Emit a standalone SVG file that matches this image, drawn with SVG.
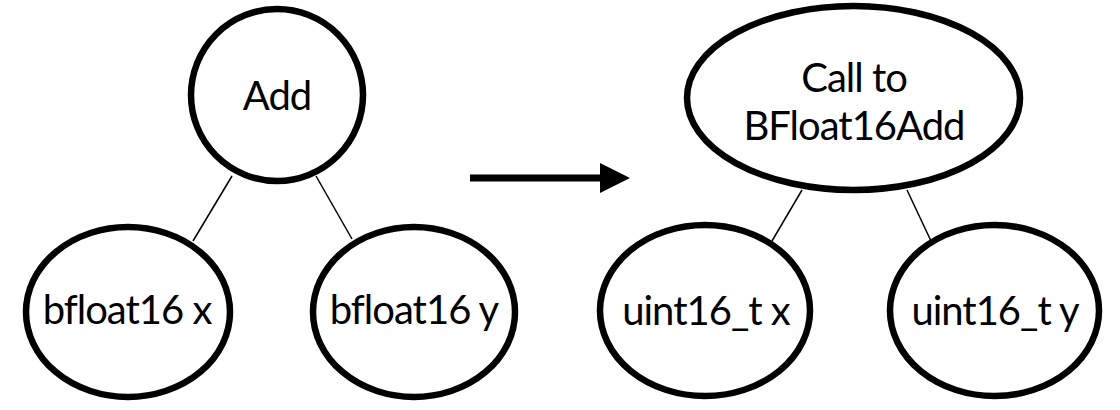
<svg xmlns="http://www.w3.org/2000/svg" width="1120" height="410" viewBox="0 0 1120 410">
<style>
.n{fill:#fff;stroke:#000;stroke-width:6.5}
.t{font-family:Lato,"Open Sans",sans-serif;font-size:40px;letter-spacing:-1px;fill:#000;text-anchor:middle}
.e{stroke:#000;stroke-width:1.5;fill:none}
</style>
<rect width="1120" height="410" fill="#fff"/>
<g id="connectors">
<line class="e" x1="232" y1="176" x2="193" y2="241"/>
<line class="e" x1="316" y1="176" x2="352" y2="239"/>
<line class="e" x1="802" y1="190" x2="772" y2="241"/>
<line class="e" x1="907" y1="190" x2="931" y2="241"/>
<line x1="470" y1="178" x2="602" y2="178" stroke="#000" stroke-width="7"/>
<polygon points="600,163 630,178 600,193" fill="#000"/>
</g>
<g id="add"><circle class="n" cx="277" cy="95" r="86"/><text class="t" x="277" y="110">Add</text></g>
<g id="bx"><ellipse class="n" cx="128" cy="312" rx="102" ry="85"/><text class="t" x="127" y="324">bfloat16 x</text></g>
<g id="by"><ellipse class="n" cx="414" cy="312" rx="101" ry="85"/><text class="t" x="414" y="324">bfloat16 y</text></g>
<g id="call"><ellipse class="n" cx="853.5" cy="98" rx="166.5" ry="92"/><text class="t" x="854" y="92">Call to</text><text class="t" x="854" y="140">BFloat16Add</text></g>
<g id="ux"><ellipse class="n" cx="705" cy="310.5" rx="105" ry="85.5"/><text class="t" x="706" y="325">uint16_t x</text></g>
<g id="uy"><ellipse class="n" cx="994.5" cy="310.5" rx="104.5" ry="85.5"/><text class="t" x="995" y="325">uint16_t y</text></g>
</svg>
